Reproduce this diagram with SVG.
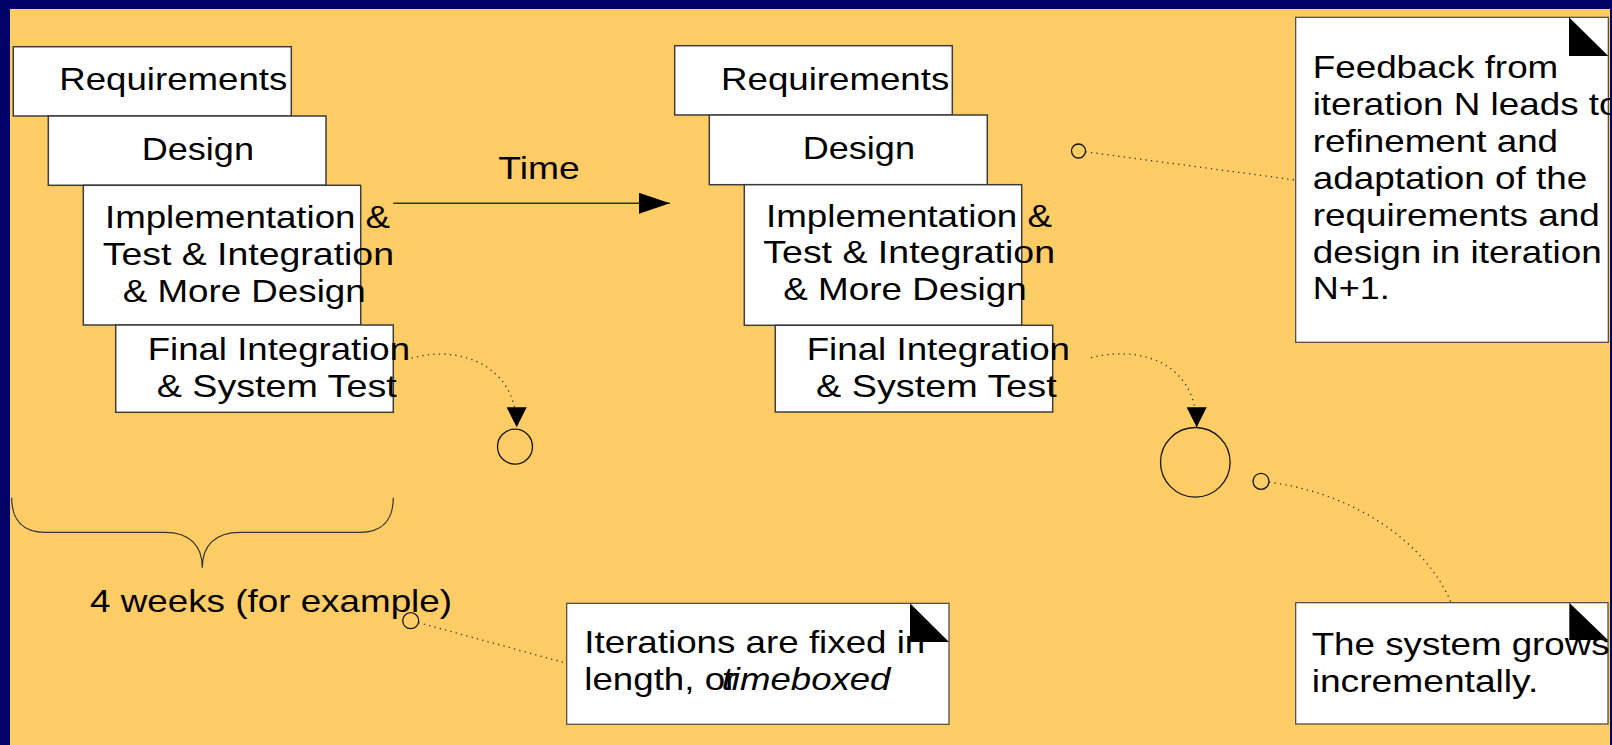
<svg xmlns="http://www.w3.org/2000/svg" width="1612" height="745" viewBox="0 0 1612 745">
  <style>
    .bg { fill: #FFCC66; }
    .frame { fill: #000066; }
    .box { fill: #FFFFFF; stroke: #3c3c3c; stroke-width: 1.5; }
    .note { fill: #FFFFFF; stroke: #444444; stroke-width: 1.2; }
    .fold { fill: #000000; }
    .lbl { font-family: "Liberation Sans", Arial, Helvetica, sans-serif; font-size: 30.5px; fill: #000000; }
    .ital { font-style: italic; }
    .solid { stroke: #333333; stroke-width: 1.4; fill: none; }
    .dot { stroke: #333333; stroke-width: 1.3; fill: none; stroke-dasharray: 1.3 4.2; }
    .ring { fill: none; stroke: #151515; stroke-width: 1.3; }
  </style>
  <defs>
    <marker id="timeHead" markerUnits="userSpaceOnUse" markerWidth="31" markerHeight="21" refX="31" refY="10.5" orient="auto">
      <path d="M0,0 L31,10.5 L0,21 Z" fill="#000000"/>
    </marker>
    <marker id="dropHead" markerUnits="userSpaceOnUse" markerWidth="20" markerHeight="20" refX="20" refY="10" orient="auto">
      <path d="M0,0 L20,10 L0,20 Z" fill="#000000"/>
    </marker>
  </defs>

  <!-- slide background -->
  <rect class="bg" x="0" y="0" width="1612" height="745"/>

  <!-- iteration N: stacked workflow boxes -->
  <g id="iter1-requirements">
    <rect class="box" x="13.3" y="46.7" width="278" height="69.3"/>
    <text class="lbl" x="59.3" y="90" textLength="228" lengthAdjust="spacingAndGlyphs">Requirements</text>
  </g>
  <g id="iter1-design">
    <rect class="box" x="48.3" y="116" width="277.7" height="69.3"/>
    <text class="lbl" x="141.7" y="160" textLength="112.3" lengthAdjust="spacingAndGlyphs">Design</text>
  </g>
  <g id="iter1-implementation">
    <rect class="box" x="83.3" y="185.3" width="277.4" height="139.7"/>
    <text class="lbl" x="105" y="228.3" textLength="285" lengthAdjust="spacingAndGlyphs">Implementation &amp;</text>
    <text class="lbl" x="102.7" y="265" textLength="291.3" lengthAdjust="spacingAndGlyphs">Test &amp; Integration</text>
    <text class="lbl" x="122.7" y="301.7" textLength="243" lengthAdjust="spacingAndGlyphs">&amp; More Design</text>
  </g>
  <g id="iter1-final">
    <rect class="box" x="115.7" y="325" width="277.6" height="87.3"/>
    <text class="lbl" x="147.7" y="360" textLength="262.3" lengthAdjust="spacingAndGlyphs">Final Integration</text>
    <text class="lbl" x="156.7" y="396.7" textLength="240" lengthAdjust="spacingAndGlyphs">&amp; System Test</text>
  </g>

  <!-- iteration N+1: stacked workflow boxes -->
  <g id="iter2-requirements">
    <rect class="box" x="674.7" y="45.7" width="277.6" height="69.3"/>
    <text class="lbl" x="721" y="90" textLength="228.3" lengthAdjust="spacingAndGlyphs">Requirements</text>
  </g>
  <g id="iter2-design">
    <rect class="box" x="709.3" y="115" width="278" height="69.7"/>
    <text class="lbl" x="802.7" y="159" textLength="112.3" lengthAdjust="spacingAndGlyphs">Design</text>
  </g>
  <g id="iter2-implementation">
    <rect class="box" x="744.3" y="184.7" width="277.4" height="140.6"/>
    <text class="lbl" x="766" y="226.7" textLength="286" lengthAdjust="spacingAndGlyphs">Implementation &amp;</text>
    <text class="lbl" x="763.3" y="263.3" textLength="291.7" lengthAdjust="spacingAndGlyphs">Test &amp; Integration</text>
    <text class="lbl" x="783.3" y="300" textLength="243.4" lengthAdjust="spacingAndGlyphs">&amp; More Design</text>
  </g>
  <g id="iter2-final">
    <rect class="box" x="775.3" y="325.3" width="277.4" height="86.7"/>
    <text class="lbl" x="806.7" y="360" textLength="263.3" lengthAdjust="spacingAndGlyphs">Final Integration</text>
    <text class="lbl" x="816" y="396.7" textLength="240.7" lengthAdjust="spacingAndGlyphs">&amp; System Test</text>
  </g>

  <!-- delivered increments -->
  <g id="increment-1">
    <circle class="ring" cx="515" cy="446.7" r="17.5"/>
  </g>
  <g id="increment-2">
    <circle class="ring" cx="1195.3" cy="462.3" r="34.8"/>
  </g>

  <!-- time label -->
  <g id="time-label">
    <text class="lbl" x="498.3" y="179.3" textLength="81.3" lengthAdjust="spacingAndGlyphs">Time</text>
  </g>

  <!-- iteration length brace -->
  <g id="duration-brace">
    <path class="solid" style="stroke-width:1.2" d="M11.7,497.7 C11.7,521 24,532.3 45,532.3 L165,532.3 C190,532.3 202.3,546 202.3,567.7 C202.3,546 214.6,532.3 240,532.3 L360,532.3 C381,532.3 393.3,521 393.3,497.7"/>
    <text class="lbl" x="90" y="611.7" textLength="362" lengthAdjust="spacingAndGlyphs">4 weeks (for example)</text>
  </g>

  <!-- annotation notes -->
  <g id="note-feedback">
    <rect class="note" x="1295.7" y="17.3" width="312.6" height="325"/>
    <path class="fold" d="M1569,17.3 L1608.3,56 L1569,56 Z"/>
    <text class="lbl" x="1312.7" y="77.7" textLength="245.6" lengthAdjust="spacingAndGlyphs">Feedback from</text>
    <text class="lbl" x="1312.7" y="115" textLength="306.8" lengthAdjust="spacingAndGlyphs">iteration N leads to</text>
    <text class="lbl" x="1312.7" y="151.7" textLength="245.4" lengthAdjust="spacingAndGlyphs">refinement and</text>
    <text class="lbl" x="1312.7" y="189" textLength="274.6" lengthAdjust="spacingAndGlyphs">adaptation of the</text>
    <text class="lbl" x="1312.7" y="226" textLength="287" lengthAdjust="spacingAndGlyphs">requirements and</text>
    <text class="lbl" x="1312.7" y="262.7" textLength="289" lengthAdjust="spacingAndGlyphs">design in iteration</text>
    <text class="lbl" x="1312.7" y="299.3" textLength="77" lengthAdjust="spacingAndGlyphs">N+1.</text>
  </g>

  <g id="note-timeboxed">
    <rect class="note" x="566.7" y="603.3" width="382.3" height="121"/>
    <path class="fold" d="M910,603.3 L949,642 L910,642 Z"/>
    <text class="lbl" x="584.3" y="653.3" textLength="341" lengthAdjust="spacingAndGlyphs">Iterations are fixed in</text>
    <text class="lbl" x="584.3" y="690" textLength="153" lengthAdjust="spacingAndGlyphs">length, or</text>
    <text class="lbl ital" x="721.7" y="690" textLength="168.8" lengthAdjust="spacingAndGlyphs">timeboxed</text>
  </g>

  <g id="note-increments">
    <rect class="note" x="1295.7" y="602.7" width="312.3" height="121.3"/>
    <path class="fold" d="M1569.3,602.7 L1608,640 L1569.3,640 Z"/>
    <text class="lbl" x="1311.7" y="655" textLength="298" lengthAdjust="spacingAndGlyphs">The system grows</text>
    <text class="lbl" x="1311.7" y="691.7" textLength="226.6" lengthAdjust="spacingAndGlyphs">incrementally.</text>
  </g>

  <!-- connectors -->
  <g id="connectors">
    <line class="solid" x1="393.3" y1="203.3" x2="670" y2="203.3" marker-end="url(#timeHead)"/>
    <path class="dot" d="M411.7,358.3 C455,345 516.7,362 516.7,427.3" marker-end="url(#dropHead)"/>
    <path class="dot" d="M1091,357.7 C1140,345 1196.7,362 1196.7,427.3" marker-end="url(#dropHead)"/>
    <circle class="ring" cx="1078.5" cy="151" r="7"/>
    <line class="dot" x1="1085.5" y1="151.8" x2="1295.7" y2="180"/>
    <circle class="ring" cx="410.7" cy="620.7" r="8"/>
    <line class="dot" x1="418.5" y1="622.6" x2="566.7" y2="663.3"/>
    <circle class="ring" cx="1261" cy="481.3" r="8"/>
    <path class="dot" d="M1269,482.3 C1350,492 1425,540 1451,602.7"/>
  </g>

  <!-- slide frame -->
  <rect class="frame" x="0" y="0" width="1612" height="9"/>
  <rect class="frame" x="0" y="0" width="10" height="745"/>
  <rect class="frame" x="1610" y="0" width="2" height="745"/>
</svg>
